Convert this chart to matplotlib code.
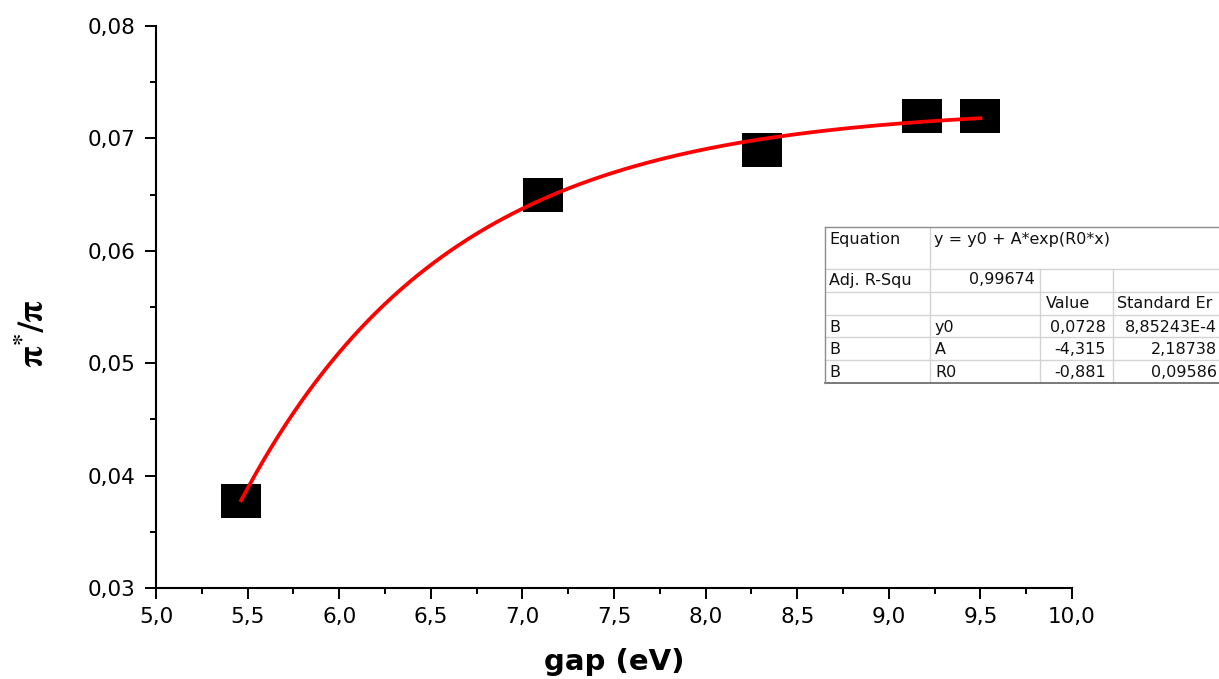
import numpy as np
import matplotlib
matplotlib.use("Agg")
import matplotlib.pyplot as plt
from matplotlib.path import Path
from matplotlib.lines import Line2D

# measured points
gap = [5.465, 7.11, 8.31, 9.18, 9.50]
ratio = [0.0377, 0.0650, 0.0690, 0.0720, 0.0720]

x_ticks = [5.0, 5.5, 6.0, 6.5, 7.0, 7.5, 8.0, 8.5, 9.0, 9.5, 10.0]
x_tick_labels = ["5,0", "5,5", "6,0", "6,5", "7,0", "7,5", "8,0", "8,5", "9,0", "9,5", "10,0"]
y_ticks = [0.03, 0.04, 0.05, 0.06, 0.07, 0.08]
y_tick_labels = ["0,03", "0,04", "0,05", "0,06", "0,07", "0,08"]

# fit report (exponential fit y = y0 + A*exp(R0*x))
equation = "y = y0 + A*exp(R0*x)"
adj_r2 = "0,99674"
param_group = ["B", "B", "B"]
param_names = ["y0", "A", "R0"]
param_values = ["0,0728", "-4,315", "-0,881"]
param_errors = ["8,85243E-4", "2,18738", "0,09586"]

W, H = 1219, 679
plt.rcParams["font.family"] = ["DejaVu Sans"]
plt.rcParams["mathtext.fontset"] = "stix"

fig = plt.figure(figsize=(W / 100, H / 100), dpi=100)
ax = fig.add_axes([156 / W, 1 - 588 / H, (1072 - 156) / W, (588 - 26) / H])

# slightly wide rectangle marker
rect = Path([(-0.6, -0.5), (0.6, -0.5), (0.6, 0.5), (-0.6, 0.5), (-0.6, -0.5)],
            [Path.MOVETO, Path.LINETO, Path.LINETO, Path.LINETO, Path.CLOSEPOLY])
ax.plot(gap, ratio, linestyle="none", marker=rect, markersize=28.8,
        color="black", markeredgewidth=0, zorder=2)

# fitted curve from the reported parameters
y0, a, r0 = [float(v.replace(",", ".")) for v in param_values]
xs = np.linspace(min(gap), max(gap), 200)
ax.plot(xs, y0 + a * np.exp(r0 * xs), color="#ff0000", lw=2.7, zorder=3)

ax.set_xlim(5.0, 10.0)
ax.set_ylim(0.03, 0.08)
ax.set_xticks(x_ticks)
ax.set_xticklabels(x_tick_labels)
ax.set_yticks(y_ticks)
ax.set_yticklabels(y_tick_labels)
ax.set_xticks(np.arange(5.25, 10, 0.5), minor=True)
ax.set_yticks(np.arange(0.035, 0.08, 0.01), minor=True)
ax.tick_params(which="major", direction="out", length=8, width=1.4, labelsize=15.5)
ax.tick_params(axis="x", which="major", pad=6)
ax.tick_params(axis="y", which="major", pad=7)
ax.tick_params(which="minor", direction="out", length=4, width=1.4)

for side in ["top", "right"]:
    ax.spines[side].set_visible(False)
for side in ["left", "bottom"]:
    ax.spines[side].set_linewidth(1.5)

ax.set_xlabel("gap (eV)", fontsize=21, fontweight="bold", va="center")
ax.xaxis.set_label_coords(0.5, (588 - 662) / 562)
ax.set_ylabel(r"$\mathbf{\pi}^{\mathbf{*}}\mathbf{/\pi}$", fontsize=25, va="center")
ax.yaxis.set_label_coords((33 - 156) / 916, (588 - 333) / 562)


# ---- fit results table ----
def fx(px):
    return px / W


def fy(py):
    return 1 - py / H


def hline(y, x0, x1, color, lw=1.0):
    fig.add_artist(Line2D([fx(x0), fx(x1)], [fy(y), fy(y)], transform=fig.transFigure,
                          color=color, lw=lw))


def vline(x, y0_, y1_, color, lw=1.0):
    fig.add_artist(Line2D([fx(x), fx(x)], [fy(y0_), fy(y1_)], transform=fig.transFigure,
                          color=color, lw=lw))


cols = [825, 930, 1040, 1113, 1225]
rows = [227, 269, 292, 315, 337, 360, 383]
inner = "#d4d4d4"
outer = "#8c8c8c"

for r in rows[1:-1]:
    hline(r, cols[0], cols[-1], inner)
vline(cols[1], rows[0], rows[-1], inner)
vline(cols[2], rows[1], rows[-1], inner)
vline(cols[3], rows[1], rows[-1], inner)
hline(rows[0], cols[0], cols[-1], outer)
hline(rows[-1], cols[0], cols[-1], "#6e6e6e", lw=1.3)
vline(cols[0], rows[0], rows[-1], outer)

fs = 11.5


def cell(text, x, y, ha="left"):
    fig.text(fx(x), fy(y), text, ha=ha, va="center", fontsize=fs, color="#111111")


cell("Equation", 829, 239)
cell(equation, 934, 239)
cell("Adj. R-Squ", 829, 280)
cell(adj_r2, 1035, 280, ha="right")
cell("Value", 1046, 303)
cell("Standard Er", 1117, 303)
for i in range(3):
    yc = (rows[3 + i] + rows[4 + i]) / 2 + 1
    cell(param_group[i], 829, yc)
    cell(param_names[i], 935, yc)
    cell(param_values[i], 1106, yc, ha="right")
    cell(param_errors[i], 1217, yc, ha="right")

fig.savefig("out.png", dpi=100)
